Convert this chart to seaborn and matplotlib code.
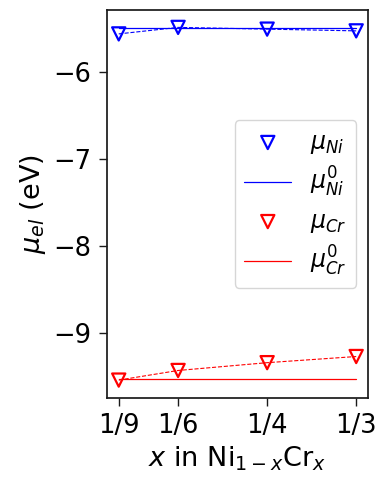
import numpy as np
import pandas as pd
import matplotlib
matplotlib.use("Agg")
import matplotlib.pyplot as plt
import seaborn as sns

# Composition x in Ni(1-x)Cr(x)
x_vals = [1/9, 1/6, 1/4, 1/3]
x_ticklabels = ["1/9", "1/6", "1/4", "1/3"]

# Elemental chemical potentials (eV)
mu_ni = [-5.555, -5.48, -5.50, -5.52]
mu_ni0 = -5.49
mu_cr = [-9.548, -9.437, -9.347, -9.276]
mu_cr0 = -9.537

sns.set_theme(style="ticks", rc={"axes.edgecolor": "0.1", "xtick.color": "0.1",
                                 "ytick.color": "0.1", "text.color": "black",
                                 "axes.labelcolor": "black"})
plt.rcParams["font.family"] = ["DejaVu Sans"]

df = pd.DataFrame({"x": x_vals, "ni": mu_ni, "cr": mu_cr,
                   "ni0": [mu_ni0] * len(x_vals), "cr0": [mu_cr0] * len(x_vals)})

fig = plt.figure(figsize=(3.83, 4.79), dpi=100)
ax = fig.add_axes([0.279, 0.169, 0.682, 0.810])

# thin dashed guides through the computed points
sns.lineplot(data=df, x="x", y="ni", ax=ax, color="blue", lw=0.8, linestyle="--")
sns.lineplot(data=df, x="x", y="cr", ax=ax, color="red", lw=0.8, linestyle="--")

sns.scatterplot(data=df, x="x", y="ni", ax=ax, marker="v", s=90, facecolors="none",
                edgecolor="blue", linewidth=1.6, label=r"$\mu_{Ni}$", zorder=3)
sns.lineplot(data=df, x="x", y="ni0", ax=ax, color="blue", lw=0.9, label=r"$\mu^0_{Ni}$")
sns.scatterplot(data=df, x="x", y="cr", ax=ax, marker="v", s=90, facecolors="none",
                edgecolor="red", linewidth=1.6, label=r"$\mu_{Cr}$", zorder=3)
sns.lineplot(data=df, x="x", y="cr0", ax=ax, color="red", lw=0.9, label=r"$\mu^0_{Cr}$")

ax.set_xticks(x_vals)
ax.set_xticklabels(x_ticklabels)
ax.set_yticks([-6, -7, -8, -9])
ax.set_ylim(-9.755, -5.28)
ax.tick_params(labelsize=18.5, length=6, width=1, pad=5, labelcolor="black")
ax.set_xlabel(r"$x$ in Ni$_{1-x}$Cr$_x$", fontsize=19.5, labelpad=4)
ax.set_ylabel(r"$\mu_{el}$ (eV)", fontsize=19.5, labelpad=4)

ax.legend(loc="center right", fontsize=17, frameon=True, handlelength=2.0,
          labelspacing=0.4)

fig.savefig("out.png", dpi=100)
